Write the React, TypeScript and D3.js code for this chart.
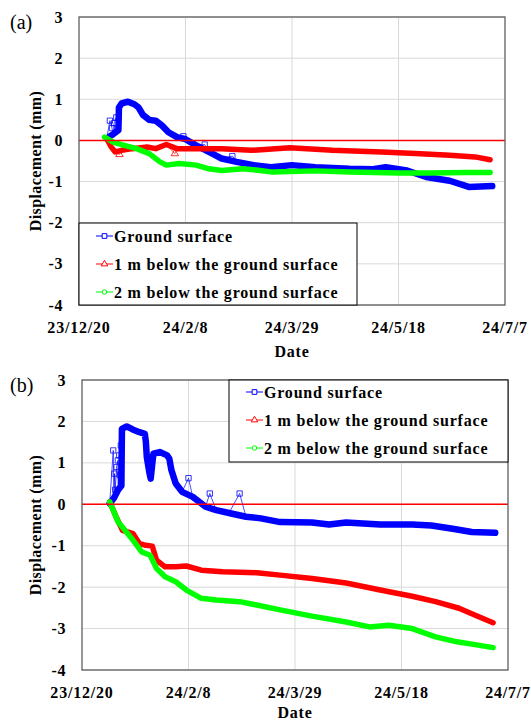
import React, { useEffect, useRef } from "react";
import * as d3 from "d3";

// axis
const startDate = "2023-12-20";
const endDate = "2024-07-07";
const xTickDates = ["2023-12-20", "2024-02-08", "2024-03-29", "2024-05-18", "2024-07-07"];
const xTickLabels = ["23/12/20", "24/2/8", "24/3/29", "24/5/18", "24/7/7"];
const yTicks = [3, 2, 1, 0, -1, -2, -3, -4];

const seriesNames = ["Ground surface", "1 m below the ground surface", "2 m below the ground surface"];
const seriesColors = ["#0000ff", "#ff0000", "#00ff00"];

type Pt = [string, number];

// (a)
const groundA: Pt[] = [
  ["2024-01-02", 0.05], ["2024-01-05", 0.15], ["2024-01-07 12:00", 0.25], ["2024-01-07 18:00", 0.8],
  ["2024-01-09", 0.9], ["2024-01-12", 0.94], ["2024-01-15", 0.88], ["2024-01-17", 0.8],
  ["2024-01-19", 0.62], ["2024-01-22", 0.5], ["2024-01-25", 0.48], ["2024-01-28", 0.36],
  ["2024-01-31", 0.2], ["2024-02-04", 0.08], ["2024-02-08", 0.03], ["2024-02-13", -0.12],
  ["2024-02-19", -0.28], ["2024-02-25", -0.44], ["2024-03-03", -0.52], ["2024-03-11", -0.6],
  ["2024-03-19", -0.65], ["2024-03-29", -0.6], ["2024-04-09", -0.65], ["2024-04-25", -0.69],
  ["2024-05-06", -0.7], ["2024-05-12", -0.65], ["2024-05-22", -0.73], ["2024-05-31", -0.89],
  ["2024-06-11", -0.98], ["2024-06-20", -1.13], ["2024-07-01", -1.11],
];
const groundSpikesA: Pt[] = [
  ["2024-01-03 12:00", 0.48], ["2024-01-04 12:00", 0.3], ["2024-01-05 12:00", 0.42],
  ["2024-01-06 12:00", 0.56], ["2024-02-07", 0.1], ["2024-02-17", -0.1], ["2024-03-01", -0.38],
];
const oneMeterA: Pt[] = [
  ["2024-01-02", 0.05], ["2024-01-04", -0.15], ["2024-01-06", -0.28], ["2024-01-09", -0.24],
  ["2024-01-14", -0.2], ["2024-01-21", -0.16], ["2024-01-25", -0.2], ["2024-01-30", -0.1],
  ["2024-02-04", -0.2], ["2024-02-10", -0.2], ["2024-02-25", -0.2], ["2024-03-10", -0.24],
  ["2024-03-28", -0.18], ["2024-04-17", -0.24], ["2024-05-10", -0.28], ["2024-05-26", -0.32],
  ["2024-06-11", -0.36], ["2024-06-23", -0.4], ["2024-06-30", -0.47],
];
const oneMeterSpikesA: Pt[] = [["2024-01-08", -0.34], ["2024-02-03", -0.32]];
const twoMeterA: Pt[] = [
  ["2024-01-01", 0.08], ["2024-01-05", -0.04], ["2024-01-09", -0.1], ["2024-01-16", -0.2],
  ["2024-01-22", -0.32], ["2024-01-27", -0.52], ["2024-01-30", -0.6], ["2024-02-05", -0.56],
  ["2024-02-13", -0.6], ["2024-02-19", -0.69], ["2024-02-25", -0.73], ["2024-03-06", -0.69],
  ["2024-03-14", -0.73], ["2024-03-20", -0.77], ["2024-04-09", -0.74], ["2024-04-25", -0.77],
  ["2024-05-18", -0.79], ["2024-06-02", -0.79], ["2024-06-18", -0.78], ["2024-06-30", -0.78],
];

// (b)
const groundB: Pt[] = [
  ["2024-01-02", 0.02], ["2024-01-04", 0.15], ["2024-01-06", 0.35], ["2024-01-07 12:00", 0.45],
  ["2024-01-07 18:00", 1.82], ["2024-01-10", 1.88], ["2024-01-13", 1.8], ["2024-01-16", 1.74],
  ["2024-01-18 12:00", 1.7], ["2024-01-19", 1.5], ["2024-01-19 10:00", 1.14], ["2024-01-20 14:00", 0.78],
  ["2024-01-21 06:00", 0.62], ["2024-01-22 12:00", 1.22], ["2024-01-25 12:00", 1.26], ["2024-01-29", 1.18],
  ["2024-01-30", 1.1], ["2024-01-31", 0.82], ["2024-02-02", 0.5], ["2024-02-05", 0.3],
  ["2024-02-10", 0.18], ["2024-02-13", 0.06], ["2024-02-16", -0.06], ["2024-02-21", -0.14],
  ["2024-02-27", -0.21], ["2024-03-06", -0.3], ["2024-03-13", -0.34], ["2024-03-22", -0.43],
  ["2024-04-06", -0.44], ["2024-04-14", -0.49], ["2024-04-22", -0.44], ["2024-05-08", -0.49],
  ["2024-05-23", -0.49], ["2024-06-01", -0.51], ["2024-06-11", -0.59], ["2024-06-20", -0.67],
  ["2024-07-01", -0.69],
];
const groundSpikesB: Pt[] = [
  ["2024-01-03 16:00", 1.3], ["2024-01-04 06:00", 0.74], ["2024-01-04 14:00", 0.35],
  ["2024-01-05 06:00", 0.9], ["2024-01-05 20:00", 1.06], ["2024-01-06 12:00", 1.18],
  ["2024-01-06 20:00", 0.7], ["2024-01-07 06:00", 1.42], ["2024-02-08", 0.63],
  ["2024-02-18", 0.26], ["2024-03-03", 0.26],
];
const oneMeterB: Pt[] = [
  ["2024-01-02", 0.06], ["2024-01-05", -0.3], ["2024-01-08", -0.63], ["2024-01-13", -0.71],
  ["2024-01-16", -0.95], ["2024-01-19", -0.99], ["2024-01-22", -1.01], ["2024-01-24", -1.35],
  ["2024-01-28", -1.51], ["2024-02-02", -1.51], ["2024-02-07", -1.49], ["2024-02-14", -1.59],
  ["2024-02-24", -1.63], ["2024-03-11", -1.65], ["2024-03-22", -1.71], ["2024-04-06", -1.79],
  ["2024-04-22", -1.9], ["2024-05-08", -2.07], ["2024-05-23", -2.22], ["2024-06-03", -2.35],
  ["2024-06-14", -2.51], ["2024-06-23", -2.71], ["2024-06-30", -2.86],
];
const twoMeterB: Pt[] = [
  ["2024-01-02", 0.06], ["2024-01-06", -0.43], ["2024-01-13", -0.87], ["2024-01-17", -1.15],
  ["2024-01-21", -1.23], ["2024-01-24", -1.55], ["2024-01-28", -1.75], ["2024-02-02", -1.87],
  ["2024-02-07", -2.07], ["2024-02-14", -2.27], ["2024-02-21", -2.31], ["2024-03-03", -2.35],
  ["2024-03-11", -2.43], ["2024-03-22", -2.55], ["2024-04-06", -2.7], ["2024-04-22", -2.84],
  ["2024-05-03", -2.96], ["2024-05-12", -2.92], ["2024-05-23", -3.0], ["2024-06-03", -3.2],
  ["2024-06-13", -3.32], ["2024-06-23", -3.4], ["2024-06-30", -3.46],
];

const parseTime = d3.timeParse("%Y-%m-%d %H:%M");
const toDate = (s: string) => parseTime(s.length === 10 ? s + " 00:00" : s) as Date;

const FONT = "'Liberation Serif', 'Times New Roman', serif";

function useD3(render: (svg: any) => void) {
  const ref = useRef<SVGSVGElement>(null);
  useEffect(() => {
    const svg = d3.select(ref.current);
    svg.selectAll("*").remove();
    render(svg);
  }, []);
  return ref;
}

function drawPanel(svg: any, p: any) {
  const x = d3.scaleTime().domain([toDate(startDate), toDate(endDate)]).range([p.left, p.right]);
  const y = d3.scaleLinear().domain([-4, 3]).range([p.bottom, p.top]);
  const g = svg.append("g");

  // grid
  g.selectAll(".hgrid").data(yTicks).join("line")
    .attr("x1", p.left).attr("x2", p.right)
    .attr("y1", (d) => y(d)).attr("y2", (d) => y(d))
    .attr("stroke", "#d9d9d9").attr("stroke-width", 1);
  g.selectAll(".vgrid").data(xTickDates.slice(1, -1)).join("line")
    .attr("x1", (d) => x(toDate(d))).attr("x2", (d) => x(toDate(d)))
    .attr("y1", p.top).attr("y2", p.bottom)
    .attr("stroke", "#d9d9d9").attr("stroke-width", 1);

  const line = d3.line<Pt>().x((d) => x(toDate(d[0]))).y((d) => y(d[1]));
  const symbols = [d3.symbolSquare, d3.symbolTriangle, d3.symbolCircle];
  const symSize = [28, 24, 22];
  const bandWidth = [6.5, 5.5, 5.5];

  p.series.forEach((s: any, i: number) => {
    const all = s.main.concat(s.spikes).sort((a: Pt, b: Pt) => +toDate(a[0]) - +toDate(b[0]));
    // dense markers show as a thick band
    g.append("path").datum(s.main).attr("d", line)
      .attr("fill", "none").attr("stroke", seriesColors[i])
      .attr("stroke-width", bandWidth[i]).attr("stroke-linejoin", "round").attr("stroke-linecap", "round");
    g.append("path").datum(all).attr("d", line)
      .attr("fill", "none").attr("stroke", seriesColors[i]).attr("stroke-opacity", 0.7)
      .attr("stroke-width", 1);
    g.selectAll(null).data(s.spikes).join("path")
      .attr("transform", (d: Pt) => `translate(${x(toDate(d[0]))},${y(d[1])})`)
      .attr("d", d3.symbol().type(symbols[i]).size(symSize[i]))
      .attr("fill", "none").attr("stroke", seriesColors[i]).attr("stroke-opacity", 0.8)
      .attr("stroke-width", 1);
  });

  // zero line
  g.append("line").attr("x1", p.left).attr("x2", p.right)
    .attr("y1", y(0)).attr("y2", y(0))
    .attr("stroke", "#ff0000").attr("stroke-width", 1.5);

  // frame
  g.append("rect").attr("x", p.left).attr("y", p.top)
    .attr("width", p.right - p.left).attr("height", p.bottom - p.top)
    .attr("fill", "none").attr("stroke", "#595959").attr("stroke-width", 1.25);

  // tick labels
  g.selectAll(".yt").data(yTicks).join("text")
    .attr("x", p.left - 16).attr("y", (d) => y(d)).attr("dy", "0.35em")
    .attr("text-anchor", "end").attr("font-family", FONT).attr("font-weight", "bold")
    .attr("font-size", 16).attr("letter-spacing", 0.6).text((d) => String(d));
  g.selectAll(".xt").data(xTickDates).join("text")
    .attr("x", (d) => x(toDate(d))).attr("y", p.bottom + 28)
    .attr("text-anchor", "middle").attr("font-family", FONT).attr("font-weight", "bold")
    .attr("font-size", 16).attr("letter-spacing", 0.8).text((d, i) => xTickLabels[i]);

  g.append("text").attr("x", (p.left + p.right) / 2).attr("y", p.bottom + p.dateGap)
    .attr("text-anchor", "middle").attr("font-family", FONT).attr("font-weight", "bold")
    .attr("font-size", 16).attr("letter-spacing", 0.8).text("Date");
  g.append("text")
    .attr("transform", `translate(35,${(p.top + p.bottom) / 2}) rotate(-90)`)
    .attr("dy", "0.35em").attr("text-anchor", "middle").attr("font-family", FONT)
    .attr("font-weight", "bold").attr("font-size", 16).attr("letter-spacing", 0.4)
    .text("Displacement (mm)");
  g.append("text").attr("x", 10).attr("y", p.top + 12)
    .attr("font-family", FONT).attr("font-size", 20).text(p.label);

  // legend
  const lg = g.append("g").attr("transform", `translate(${p.legend.x},${p.legend.y})`);
  lg.append("rect").attr("width", p.legend.w).attr("height", p.legend.h)
    .attr("fill", "#ffffff").attr("stroke", "#000000").attr("stroke-width", 1);
  seriesNames.forEach((name, i) => {
    const cy = p.legend.row0 + i * 28;
    lg.append("line").attr("x1", 17).attr("x2", 34).attr("y1", cy).attr("y2", cy)
      .attr("stroke", seriesColors[i]).attr("stroke-width", 1);
    lg.append("path").attr("transform", `translate(25.5,${cy})`)
      .attr("d", d3.symbol().type(symbols[i]).size(symSize[i] - 6))
      .attr("fill", "#ffffff").attr("stroke", seriesColors[i]).attr("stroke-width", 1);
    lg.append("text").attr("x", 35).attr("y", cy).attr("dy", "0.35em")
      .attr("font-family", FONT).attr("font-weight", "bold").attr("font-size", 16)
      .attr("letter-spacing", 0.8).text(name);
  });
}

export default function App() {
  const ref = useD3((svg) => {
    drawPanel(svg, {
      left: 79, top: 17, right: 505, bottom: 305, label: "(a)", dateGap: 52,
      legend: { x: 79, y: 223, w: 278, h: 82, row0: 13 },
      series: [
        { main: groundA, spikes: groundSpikesA },
        { main: oneMeterA, spikes: oneMeterSpikesA },
        { main: twoMeterA, spikes: [] },
      ],
    });
    drawPanel(svg, {
      left: 82, top: 380, right: 508, bottom: 670, label: "(b)", dateGap: 48,
      legend: { x: 229, y: 380, w: 279, h: 82, row0: 12 },
      series: [
        { main: groundB, spikes: groundSpikesB },
        { main: oneMeterB, spikes: [] },
        { main: twoMeterB, spikes: [] },
      ],
    });
  });

  return (
    <svg
      ref={ref}
      width={531}
      height={722}
      style={{ position: "absolute", left: 0, top: 0, background: "#ffffff" }}
    />
  );
}
